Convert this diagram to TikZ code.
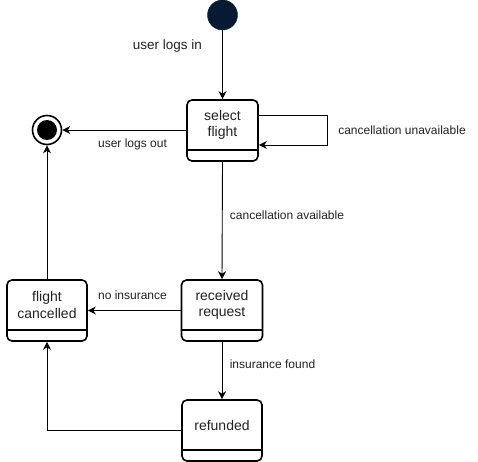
\documentclass[tikz,border=0pt]{standalone}
\usepackage{fontspec}
\setmainfont{Liberation Sans}
\usetikzlibrary{arrows.meta}
\definecolor{startfill}{HTML}{061A33}
\definecolor{txt}{HTML}{222222}
\tikzset{
  x=1pt, y=-1pt,
  statebox/.style={draw=black, line width=1.6pt, rounded corners=5pt, fill=white, inner sep=0pt},
  stxt/.style={font=\fontsize{14}{16.5}\selectfont, text=txt, align=center, inner sep=0pt},
  toplbl/.style={font=\fontsize{13.5}{16}\selectfont, text=txt, inner sep=0pt},
  lbl/.style={font=\fontsize{12}{14}\selectfont, text=txt, inner sep=0pt},
  conn/.style={draw=black, line width=0.9pt, -{Stealth[length=8pt,width=8pt,inset=2.5pt]}},
}
\begin{document}
\begin{tikzpicture}
\useasboundingbox (0,0) rectangle (478,461);
% start
\node[circle, fill=startfill, draw=startfill, minimum size=30pt, inner sep=0pt] (start) at (222.5,15) {};
% final
\node[circle, draw=black, line width=1.6pt, fill=white, minimum size=29pt, inner sep=0pt] (final) at (47,130) {};
\node[circle, fill=black, minimum size=20pt, inner sep=0pt] (finalin) at (47,130) {};
% boxes
\node[statebox, minimum width=71pt, minimum height=61pt] (sf) at (222.5,130.5) {};
\draw[line width=1.6pt] (187,150) -- (258,150);
\node[stxt] (sft) at (222.5,125) {select\\flight};

\node[statebox, minimum width=81pt, minimum height=61pt] (rr) at (222,310.5) {};
\draw[line width=1.6pt] (181.5,330) -- (262.5,330);
\node[stxt] (rrt) at (222,305) {received\\request};

\node[statebox, minimum width=80pt, minimum height=61pt] (fc) at (47,310.5) {};
\draw[line width=1.6pt] (7,330) -- (87,330);
\node[stxt] (fct) at (47,305) {flight\\cancelled};

\node[statebox, minimum width=80pt, minimum height=61pt] (rf) at (222,430.5) {};
\draw[line width=1.6pt] (182,450) -- (262,450);
\node[stxt] (rft) at (222,425) {refunded};

% connectors
\draw[conn] (start) -- (sf.north);
\coordinate (loopA) at (327.5,115.5);
\coordinate (loopB) at (327.5,145);
\draw[conn] (sf.east |- loopA) -- (loopA) -- (loopB) -- (sf.east |- loopB);
\draw[conn] (sf.west |- final) -- (final.east);
\draw[conn] (sf.south) -- (rr.north);
\draw[conn] (rr.west) -- (fc.east);
\draw[conn] (rr.south) -- (rf.north);
\draw[conn] (rf.west) -| (fc.south);
\draw[conn] (fc.north) -- (final.south);

% labels
\node[toplbl] (l1) at (167.5,46) {user logs in};
\node[lbl] (l2) at (132.5,144) {user logs out};
\node[lbl] (l3) at (402,130) {cancellation unavailable};
\node[lbl] (l4) at (287,215) {cancellation available};
\node[lbl] (l5) at (132.5,295) {no insurance};
\node[lbl] (l6) at (272.5,364.5) {insurance found};
\end{tikzpicture}
\end{document}
